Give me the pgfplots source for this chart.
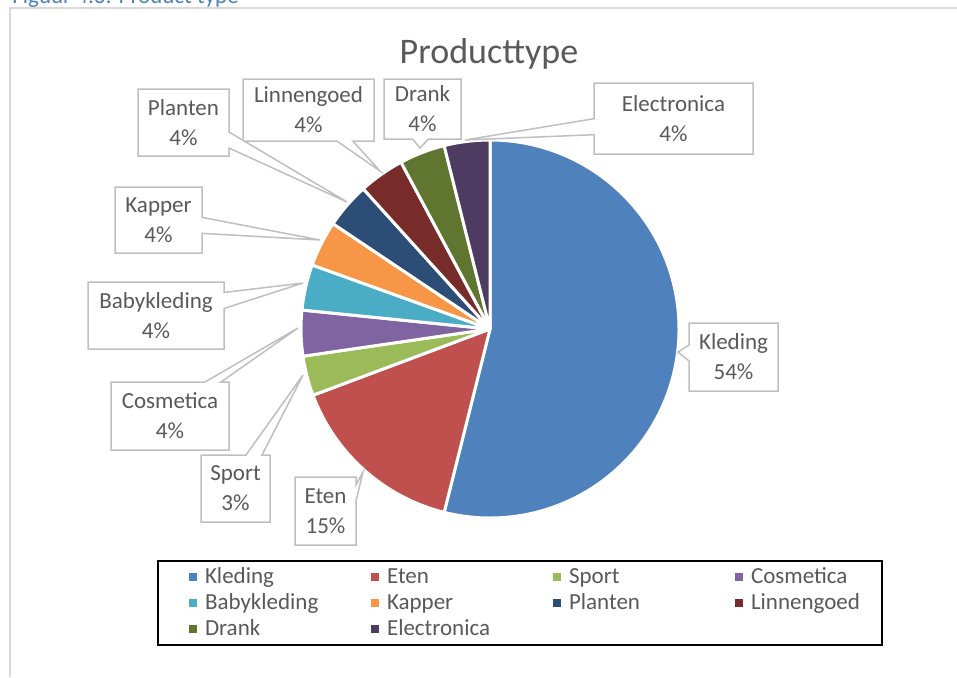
\documentclass[border=0pt]{standalone}
\usepackage{fontspec}
\setmainfont{Carlito}
\usepackage{pgfplots}
\usepackage{pgfplotstable}
\pgfplotsset{compat=1.18}
\usetikzlibrary{shapes.callouts}

\definecolor{cKle}{HTML}{4F81BD}
\definecolor{cEte}{HTML}{C0504D}
\definecolor{cSpo}{HTML}{9BBB59}
\definecolor{cCos}{HTML}{8064A2}
\definecolor{cBab}{HTML}{4BACC6}
\definecolor{cKap}{HTML}{F79646}
\definecolor{cPla}{HTML}{2C4D75}
\definecolor{cLin}{HTML}{772C2A}
\definecolor{cDra}{HTML}{5F7530}
\definecolor{cEle}{HTML}{4D3B62}
\definecolor{cText}{HTML}{595959}
\definecolor{cBorder}{HTML}{BFBFBF}
\definecolor{cFrame}{HTML}{D9D9D9}
\definecolor{cCap}{HTML}{4F81BD}

\tikzset{lab/.style={rectangle callout, draw=cBorder, fill=white, line width=0.75pt,
    text=cText, align=center, font=\fontsize{11.5}{15}\selectfont,
    inner sep=0pt, callout pointer width=8pt}}

\pgfplotstableread{
name val col
Kleding 53.9 cKle
Eten 15.4 cEte
Sport 3.4 cSpo
Cosmetica 3.9 cCos
Babykleding 3.9 cBab
Kapper 3.9 cKap
Planten 3.9 cPla
Linnengoed 3.9 cLin
Drank 3.9 cDra
Electronica 3.9 cEle
}\pietable

\begin{document}
\begin{tikzpicture}
\useasboundingbox (0,0) rectangle (478.5pt,338.5pt);
\clip (0,0) rectangle (478.5pt,338.5pt);
\begin{axis}[
  at={(0,0)}, anchor=south west,
  width=478.5pt, height=338.5pt, scale only axis,
  xmin=0, xmax=957, ymin=0, ymax=677,
  hide axis, clip=false,
  legend columns=4,
  legend cell align=left,
  legend style={at={(axis description cs:0.5434,0.1093)}, anchor=center,
    draw=black, line width=1pt, inner xsep=15.5pt, inner ysep=1.5pt,
    font=\fontsize{11.5}{13}\selectfont,
    nodes={text=cText, inner xsep=0pt, inner ysep=0.5pt, text height=9pt, text depth=3pt},
    row sep=0pt, column sep=0pt},
  legend image code/.code={\fill[#1] (0pt,-2pt) rectangle (4pt,2pt); \path (8pt,0pt);},
]
% frame
\draw[cFrame, line width=1pt] (axis cs:10,0) -- (axis cs:10,669) -- (axis cs:957,669);
% caption (partly cut, as in the reference)
\node[anchor=base west, inner sep=0pt, text=cCap, font=\fontsize{11.5}{13}\selectfont] at (axis cs:12,674) {Figuur 4.6: Product type};
% title
\node[anchor=base, inner sep=0pt, text=cText, font=\fontsize{18}{20}\selectfont] at (axis cs:489,614) {Producttype};

% pie
\pgfplotsextra{
  \pgfplotstablegetrowsof{\pietable}
  \pgfmathtruncatemacro\nrows{\pgfplotsretval-1}
  \gdef\cum{0}
  \foreach \i in {0,...,\nrows}{
    \pgfplotstablegetelem{\i}{val}\of\pietable
    \let\myval\pgfplotsretval
    \pgfplotstablegetelem{\i}{col}\of\pietable
    \let\mycol\pgfplotsretval
    \pgfmathsetmacro\aone{90-3.6*\cum}
    \pgfmathsetmacro\atwo{90-3.6*(\cum+\myval)}
    \fill[fill=\mycol, draw=white, line width=1.5pt, line join=round]
      (axis cs:490,348) -- ++(\aone:94.5pt) arc[start angle=\aone, end angle=\atwo, radius=94.5pt] -- cycle;
    \pgfmathsetmacro\newcum{\cum+\myval}
    \xdef\cum{\newcum}
  }
}

% callout labels
\node[lab, minimum width=79.5pt, minimum height=35.5pt, callout absolute pointer={(axis cs:465,537)}] at (axis cs:673.5,558.5) {Electronica\\4\%};
\node[lab, minimum width=38.5pt, minimum height=30pt, callout absolute pointer={(axis cs:420,529)}] at (axis cs:422.5,568) {Drank\\4\%};
\node[lab, minimum width=65.5pt, minimum height=31pt, callout absolute pointer={(axis cs:380,506)}] at (axis cs:308.5,567) {Linnengoed\\4\%};
\node[lab, minimum width=45.5pt, minimum height=33.5pt, callout absolute pointer={(axis cs:347,475)}] at (axis cs:183.5,554.5) {Planten\\4\%};
\node[lab, minimum width=43.5pt, minimum height=33pt, callout absolute pointer={(axis cs:320,437)}] at (axis cs:158.5,457) {Kapper\\4\%};
\node[lab, minimum width=68pt, minimum height=33.5pt, callout absolute pointer={(axis cs:303,394)}] at (axis cs:156,361.5) {Babykleding\\4\%};
\node[lab, minimum width=59pt, minimum height=34pt, callout absolute pointer={(axis cs:298,349)}] at (axis cs:170,261) {Cosmetica\\4\%};
\node[lab, minimum width=34.5pt, minimum height=33.5pt, callout absolute pointer={(axis cs:303,302)}] at (axis cs:235.5,188.5) {Sport\\3\%};
\node[lab, minimum width=30.5pt, minimum height=34pt, callout absolute pointer={(axis cs:363,205)}] at (axis cs:325.5,166) {Eten\\15\%};
\node[lab, minimum width=44.5pt, minimum height=34pt, callout absolute pointer={(axis cs:678,325)}] at (axis cs:733.5,320) {Kleding\\54\%};

% legend
\addlegendimage{fill=cKle, draw=none}\addlegendentry{\makebox[83pt][l]{Kleding}}
\addlegendimage{fill=cEte, draw=none}\addlegendentry{\makebox[83pt][l]{Eten}}
\addlegendimage{fill=cSpo, draw=none}\addlegendentry{\makebox[83pt][l]{Sport}}
\addlegendimage{fill=cCos, draw=none}\addlegendentry{\makebox[50pt][l]{Cosmetica}}
\addlegendimage{fill=cBab, draw=none}\addlegendentry{\makebox[83pt][l]{Babykleding}}
\addlegendimage{fill=cKap, draw=none}\addlegendentry{\makebox[83pt][l]{Kapper}}
\addlegendimage{fill=cPla, draw=none}\addlegendentry{\makebox[83pt][l]{Planten}}
\addlegendimage{fill=cLin, draw=none}\addlegendentry{\makebox[50pt][l]{Linnengoed}}
\addlegendimage{fill=cDra, draw=none}\addlegendentry{\makebox[83pt][l]{Drank}}
\addlegendimage{fill=cEle, draw=none}\addlegendentry{\makebox[83pt][l]{Electronica}}
\end{axis}
\end{tikzpicture}
\end{document}
